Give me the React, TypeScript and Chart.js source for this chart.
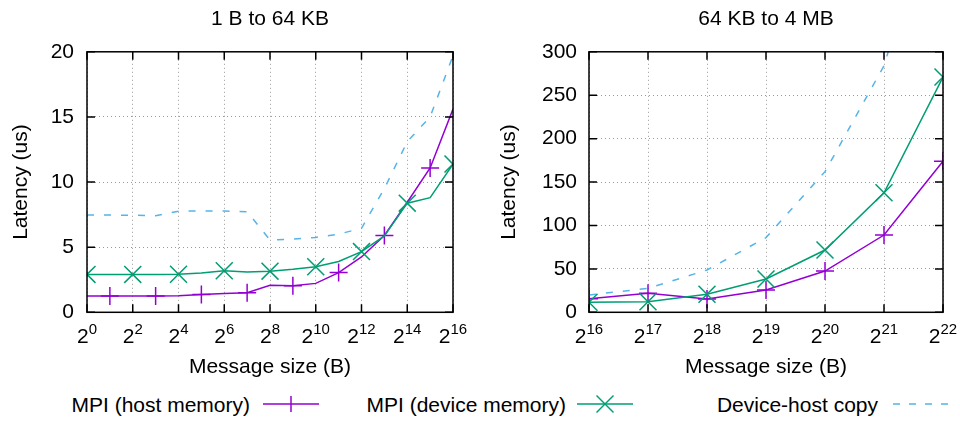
import React, { useEffect, useRef } from "react";
import { Chart, registerables } from "chart.js";

Chart.register(...registerables);

const FONT = '"Liberation Sans", Arial, Helvetica, sans-serif';

// ---- data ----
const leftExponents = [0, 1, 2, 3, 4, 5, 6, 7, 8, 9, 10, 11, 12, 13, 14, 15, 16];
const hostLeft = [1.25, 1.25, 1.25, 1.25, 1.27, 1.36, 1.44, 1.5, 2.07, 2.04, 2.22, 3.05, 4.25, 5.9, 8.45, 11.08, 15.6];
const deviceLeft = [2.91, 2.91, 2.91, 2.91, 2.92, 3.02, 3.19, 3.1, 3.16, 3.3, 3.5, 3.9, 4.66, 5.87, 8.38, 8.8, 11.38];
const copyLeft = [7.47, 7.47, 7.45, 7.42, 7.76, 7.78, 7.78, 7.72, 5.55, 5.62, 5.75, 6.0, 6.45, 9.5, 13.1, 15.0, 19.7];

const rightExponents = [16, 17, 18, 19, 20, 21, 22];
const hostRight = [15.7, 21.8, 15.3, 25.7, 47.5, 89, 174];
const deviceRight = [11.5, 12.2, 20.7, 38.3, 71.7, 137.7, 271];
const copyRight = [19.9, 27.6, 48.7, 86, 162, 284, 510];

const titles = ["1 B to 64 KB", "64 KB to 4 MB"];
const xTitle = "Message size (B)";
const yTitle = "Latency (us)";
const seriesNames = ["MPI (host memory)", "MPI (device memory)", "Device-host copy"];

const leftXRange = [0, 16];
const leftXStep = 2;
const rightXRange = [16, 22];
const rightXStep = 1;
const leftYRange = [0, 20];
const leftYStep = 5;
const rightYRange = [0, 300];
const rightYStep = 50;

const COLORS = { host: "#9400d3", device: "#009e73", copy: "#56b4e9" };

const framePlugin = {
  id: "gnuFrame",
  afterDatasetsDraw(chart: any) {
    const { ctx, chartArea: a } = chart;
    const x = chart.scales.x;
    const y = chart.scales.y;
    const L = 8;
    ctx.save();
    ctx.strokeStyle = "#000";
    ctx.lineWidth = 1.5;
    ctx.setLineDash([]);
    ctx.beginPath();
    x.ticks.forEach((t: any) => {
      const px = x.getPixelForValue(t.value);
      ctx.moveTo(px, a.bottom);
      ctx.lineTo(px, a.bottom - L);
      ctx.moveTo(px, a.top);
      ctx.lineTo(px, a.top + L);
    });
    y.ticks.forEach((t: any) => {
      const py = y.getPixelForValue(t.value);
      ctx.moveTo(a.left, py);
      ctx.lineTo(a.left + L, py);
      ctx.moveTo(a.right, py);
      ctx.lineTo(a.right - L, py);
    });
    ctx.stroke();
    ctx.strokeRect(a.left, a.top, a.right - a.left, a.bottom - a.top);

    ctx.fillStyle = "#000";
    ctx.textBaseline = "alphabetic";
    ctx.textAlign = "left";
    x.ticks.forEach((t: any) => {
      const px = x.getPixelForValue(t.value);
      const base = "2";
      const exp = String(t.value);
      ctx.font = `21px ${FONT}`;
      const w1 = ctx.measureText(base).width;
      ctx.font = `15px ${FONT}`;
      const w2 = ctx.measureText(exp).width;
      const start = px - (w1 + w2) / 2;
      ctx.font = `21px ${FONT}`;
      ctx.fillText(base, start, a.bottom + 30.7);
      ctx.font = `15px ${FONT}`;
      ctx.fillText(exp, start + w1, a.bottom + 22);
    });
    ctx.restore();
  },
};

function makeConfig(opts: {
  title: string;
  xs: number[];
  host: number[];
  device: number[];
  copy: number[];
  xRange: number[];
  xStep: number;
  yRange: number[];
  yStep: number;
  yWidth: number;
  yTitlePad: number;
  yTickPad: number;
  rightPad: number;
  hostMarker: (i: number) => boolean;
  deviceMarker: (i: number) => boolean;
}) {
  const pts = (arr: number[]) => arr.map((v, i) => ({ x: opts.xs[i], y: v }));
  return {
    type: "line",
    data: {
      datasets: [
        {
          label: seriesNames[0],
          data: pts(opts.host),
          borderColor: COLORS.host,
          backgroundColor: COLORS.host,
          borderWidth: 1.5,
          pointStyle: "cross",
          pointRadius: opts.host.map((_, i) => (opts.hostMarker(i) ? 9 : 0)),
          pointBorderWidth: 1.5,
          pointBorderColor: COLORS.host,
          tension: 0,
          order: 3,
        },
        {
          label: seriesNames[1],
          data: pts(opts.device),
          borderColor: COLORS.device,
          backgroundColor: COLORS.device,
          borderWidth: 1.5,
          pointStyle: "crossRot",
          pointRadius: opts.device.map((_, i) => (opts.deviceMarker(i) ? 12 : 0)),
          pointBorderWidth: 1.5,
          pointBorderColor: COLORS.device,
          tension: 0,
          order: 2,
        },
        {
          label: seriesNames[2],
          data: pts(opts.copy),
          borderColor: COLORS.copy,
          backgroundColor: COLORS.copy,
          borderWidth: 1.5,
          borderDash: [7, 10],
          pointRadius: 0,
          tension: 0,
          order: 1,
        },
      ],
    },
    options: {
      responsive: false,
      animation: false,
      devicePixelRatio: 1,
      layout: { padding: { left: 0, right: opts.rightPad, top: 0, bottom: 0 } },
      plugins: {
        legend: { display: false },
        tooltip: { enabled: false },
        title: {
          display: true,
          text: opts.title,
          color: "#000",
          fullSize: false,
          font: { family: FONT, size: 21, weight: "normal" },
          padding: { top: 6.75, bottom: 19.85 },
        },
      },
      scales: {
        x: {
          type: "linear",
          min: opts.xRange[0],
          max: opts.xRange[1],
          afterFit: (s: any) => {
            s.height = 72.7;
          },
          ticks: { display: false, stepSize: opts.xStep },
          grid: { color: "#9a9a9a", lineWidth: 1, drawTicks: false },
          border: { display: false, dash: [1, 3] },
          title: {
            display: true,
            text: xTitle,
            color: "#000",
            font: { family: FONT, size: 21, weight: "normal" },
            padding: { top: 0, bottom: 5.2 },
          },
        },
        y: {
          type: "linear",
          min: opts.yRange[0],
          max: opts.yRange[1],
          afterFit: (s: any) => {
            s.width = opts.yWidth;
          },
          ticks: {
            stepSize: opts.yStep,
            color: "#000",
            padding: opts.yTickPad,
            font: { family: FONT, size: 21 },
          },
          grid: { color: "#9a9a9a", lineWidth: 1, drawTicks: false },
          border: { display: false, dash: [1, 3] },
          title: {
            display: true,
            text: yTitle,
            color: "#000",
            font: { family: FONT, size: 21, weight: "normal" },
            padding: { top: opts.yTitlePad, bottom: 0 },
          },
        },
      },
    },
    plugins: [framePlugin],
  };
}

function ChartCanvas({ config, left }: { config: any; left: number }) {
  const ref = useRef<HTMLCanvasElement>(null);
  useEffect(() => {
    if (!ref.current) return;
    const chart = new Chart(ref.current, config);
    return () => chart.destroy();
  }, [config]);
  return (
    <canvas
      ref={ref}
      width={480}
      height={385}
      style={{ position: "absolute", left, top: 0, width: 480, height: 385, display: "block" }}
    />
  );
}

const leftConfig = makeConfig({
  title: titles[0],
  xs: leftExponents,
  host: hostLeft,
  device: deviceLeft,
  copy: copyLeft,
  xRange: leftXRange,
  xStep: leftXStep,
  yRange: leftYRange,
  yStep: leftYStep,
  yWidth: 87,
  yTitlePad: 8.6,
  yTickPad: 13,
  rightPad: 27,
  hostMarker: (i) => i % 2 === 1,
  deviceMarker: (i) => i % 2 === 0,
});

const rightConfig = makeConfig({
  title: titles[1],
  xs: rightExponents,
  host: hostRight,
  device: deviceRight,
  copy: copyRight,
  xRange: rightXRange,
  xStep: rightXStep,
  yRange: rightYRange,
  yStep: rightYStep,
  yWidth: 109,
  yTitlePad: 17.1,
  yTickPad: 12,
  rightPad: 17,
  hostMarker: () => true,
  deviceMarker: () => true,
});

const legendTextRight = [250, 566, 878];
const legendSampleStart = [263, 577, 893];
const legendSampleLen = 56;
const LEGEND_Y = 404;

export default function App() {
  return (
    <div
      style={{
        position: "absolute",
        left: 0,
        top: 0,
        width: 960,
        height: 424,
        background: "#fff",
        overflow: "hidden",
        fontFamily: FONT,
      }}
    >
      <ChartCanvas config={leftConfig} left={0} />
      <ChartCanvas config={rightConfig} left={480} />
      {seriesNames.map((name, i) => (
        <div
          key={name}
          style={{
            position: "absolute",
            left: legendTextRight[i] - 300,
            width: 300,
            top: 393.9,
            fontSize: 21,
            lineHeight: "21px",
            textAlign: "right",
            color: "#000",
            whiteSpace: "nowrap",
          }}
        >
          {name}
        </div>
      ))}
      <svg
        width={960}
        height={424}
        style={{ position: "absolute", left: 0, top: 0, pointerEvents: "none" }}
      >
        <line
          x1={legendSampleStart[0]}
          x2={legendSampleStart[0] + legendSampleLen}
          y1={LEGEND_Y}
          y2={LEGEND_Y}
          stroke={COLORS.host}
          strokeWidth={1.5}
        />
        <line
          x1={legendSampleStart[0] + legendSampleLen / 2}
          x2={legendSampleStart[0] + legendSampleLen / 2}
          y1={LEGEND_Y - 8}
          y2={LEGEND_Y + 8}
          stroke={COLORS.host}
          strokeWidth={1.5}
        />
        <line
          x1={legendSampleStart[1]}
          x2={legendSampleStart[1] + legendSampleLen}
          y1={LEGEND_Y}
          y2={LEGEND_Y}
          stroke={COLORS.device}
          strokeWidth={1.5}
        />
        <line
          x1={legendSampleStart[1] + legendSampleLen / 2 - 8.5}
          x2={legendSampleStart[1] + legendSampleLen / 2 + 8.5}
          y1={LEGEND_Y - 8.5}
          y2={LEGEND_Y + 8.5}
          stroke={COLORS.device}
          strokeWidth={1.5}
        />
        <line
          x1={legendSampleStart[1] + legendSampleLen / 2 - 8.5}
          x2={legendSampleStart[1] + legendSampleLen / 2 + 8.5}
          y1={LEGEND_Y + 8.5}
          y2={LEGEND_Y - 8.5}
          stroke={COLORS.device}
          strokeWidth={1.5}
        />
        <line
          x1={legendSampleStart[2]}
          x2={legendSampleStart[2] + legendSampleLen}
          y1={LEGEND_Y}
          y2={LEGEND_Y}
          stroke={COLORS.copy}
          strokeWidth={1.5}
          strokeDasharray="7 9"
        />
      </svg>
    </div>
  );
}
